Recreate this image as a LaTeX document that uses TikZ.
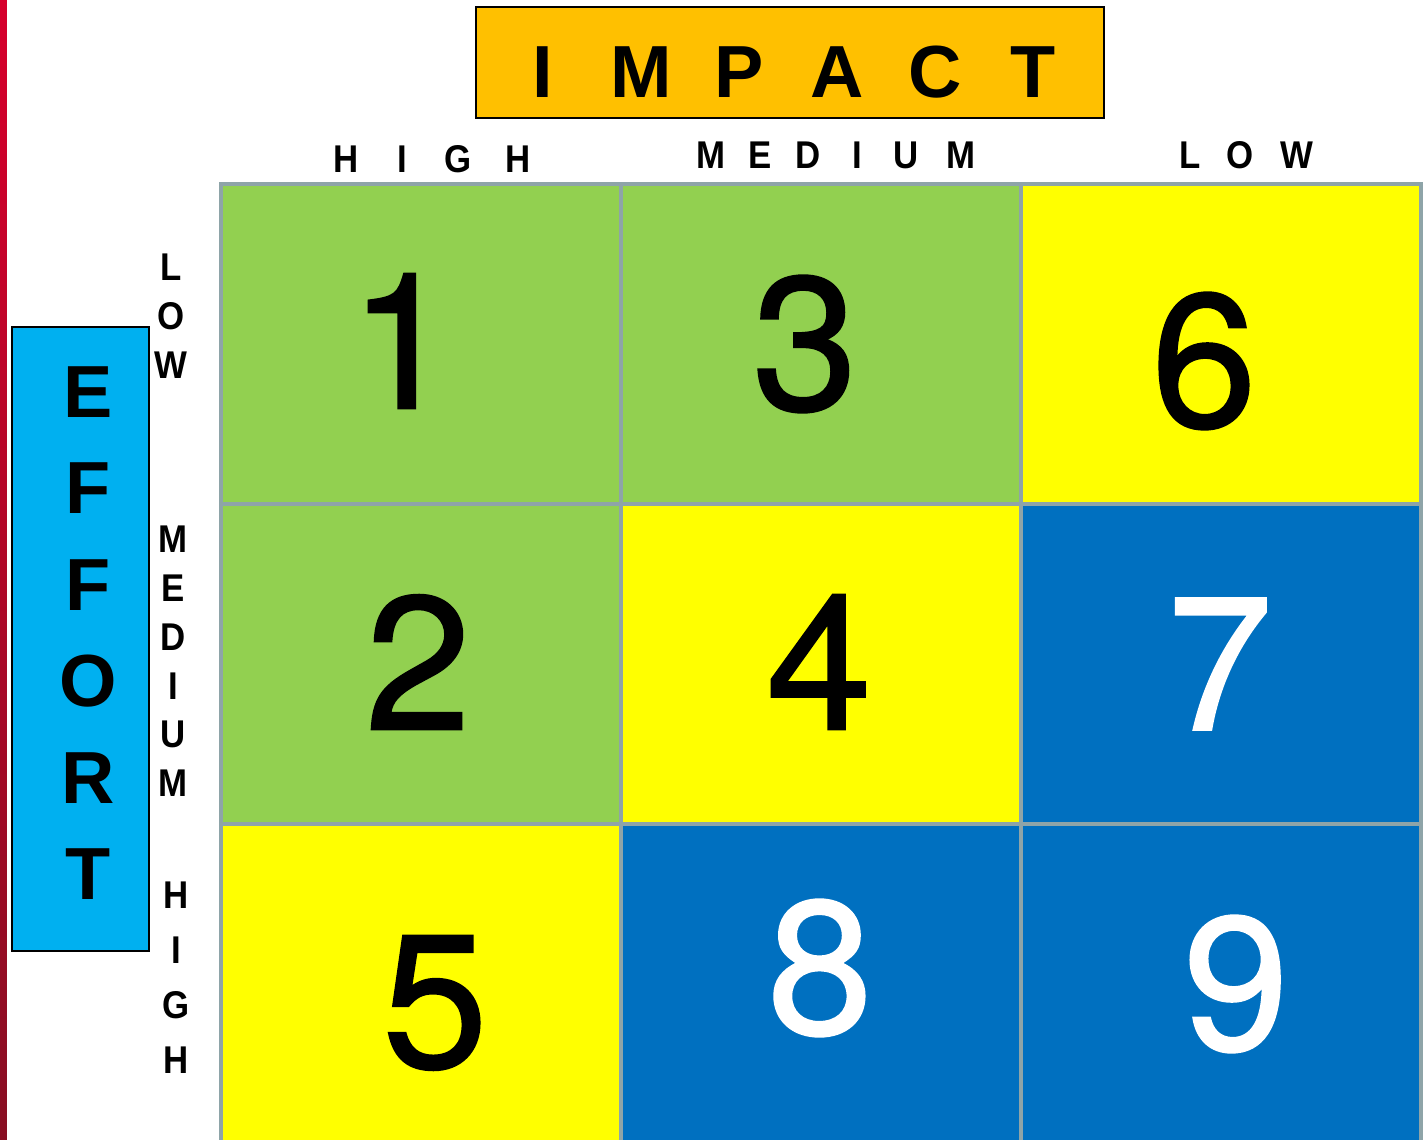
\documentclass[tikz,border=0pt]{standalone}
\usepackage{fontspec}
\setmainfont{Liberation Sans}
\newfontfamily\numfont[FakeBold=1]{TeX Gyre Heros}
\newfontfamily\lblfont[FakeStretch=0.9]{Liberation Sans}
\usetikzlibrary{positioning}
\definecolor{cGreen}{HTML}{92D050}
\definecolor{cYellow}{HTML}{FFFF00}
\definecolor{cBlue}{HTML}{0070C0}
\definecolor{cImpact}{HTML}{FFC000}
\definecolor{cEffort}{HTML}{00B0F0}
\definecolor{cGrid}{HTML}{8EA4A8}
\definecolor{cRedTop}{HTML}{D6002C}
\definecolor{cRedBot}{HTML}{880E22}

\begin{document}
\begin{tikzpicture}[
    x=0.01cm, y=-0.01cm,
    cell/.style={rectangle, draw=cGrid, line width=0.04cm, minimum width=4.0cm, minimum height=3.2cm, inner sep=0pt, anchor=north west},
    num/.style={font=\numfont\fontsize{54}{54}\selectfont, inner sep=0pt},
    bigltr/.style={font=\fontsize{21}{21}\selectfont\bfseries, inner sep=0pt},
    smallltr/.style={font=\lblfont\fontsize{11}{11}\selectfont\bfseries, inner sep=0pt}
]
\useasboundingbox (0,0) rectangle (1426,1140);
\shade[top color=cRedTop, bottom color=cRedBot] (0,0) rectangle (7,1140);

% impact header
\node[draw=black, line width=0.02cm, fill=cImpact, minimum width=6.28cm, minimum height=1.11cm, inner sep=0pt, anchor=north west] (impact) at (475,6) {};
\foreach \l [count=\i from 0] in {I,M,P,A,C,T} {
  \node[bigltr] (imp-\i) at ({543+98*\i},72) {\l};
}

% effort header
\node[draw=black, line width=0.02cm, fill=cEffort, minimum width=1.37cm, minimum height=6.24cm, inner sep=0pt, anchor=north west] (effort) at (11,326) {};
\foreach \l [count=\i from 0] in {E,F,F,O,R,T} {
  \node[bigltr] (eff-\i) at (88,{392+96.5*\i}) {\l};
}

% column labels
\foreach \l/\x [count=\i] in {H/346, I/402, G/458, H/518} {
  \node[smallltr] (chi-\i) at (\x,159) {\l};
}
\foreach \l/\x [count=\i] in {M/711, E/760, D/808, I/857, U/906, M/961} {
  \node[smallltr] (cme-\i) at (\x,155) {\l};
}
\foreach \l/\x [count=\i] in {L/1190, O/1240, W/1297} {
  \node[smallltr] (clo-\i) at (\x,155) {\l};
}

% row labels
\foreach \l/\y [count=\i] in {L/267, O/316, W/365} {
  \node[smallltr] (rlo-\i) at (171,\y) {\l};
}
\foreach \l/\y [count=\i] in {M/539, E/588, D/637, I/686, U/734, M/783} {
  \node[smallltr] (rme-\i) at (173,\y) {\l};
}
\foreach \l/\y [count=\i] in {H/895, I/950, G/1005, H/1060} {
  \node[smallltr] (rhi-\i) at (176,\y) {\l};
}

% matrix
\node[cell, fill=cGreen]  (c11) at (219,182) {};
\node[cell, fill=cGreen]  (c12) at (619,182) {};
\node[cell, fill=cYellow] (c13) at (1019,182) {};
\node[cell, fill=cGreen]  (c21) at (219,502) {};
\node[cell, fill=cYellow] (c22) at (619,502) {};
\node[cell, fill=cBlue]   (c23) at (1019,502) {};
\node[cell, fill=cYellow] (c31) at (219,822) {};
\node[cell, fill=cBlue]   (c32) at (619,822) {};
\node[cell, fill=cBlue]   (c33) at (1019,822) {};

\node[num] (n1) at (402,341) {1};
\node[num] (n3) at (805,344) {3};
\node[num] (n6) at (1204,361) {6};
\node[num] (n2) at (418,662) {2};
\node[num] (n4) at (819,662) {4};
\node[num, text=white] (n7) at (1220,664) {7};
\node[num] (n5) at (435,1003) {5};
\node[num, text=white] (n8) at (820,968) {8};
\node[num, text=white] (n9) at (1236,984) {9};
\end{tikzpicture}
\end{document}
